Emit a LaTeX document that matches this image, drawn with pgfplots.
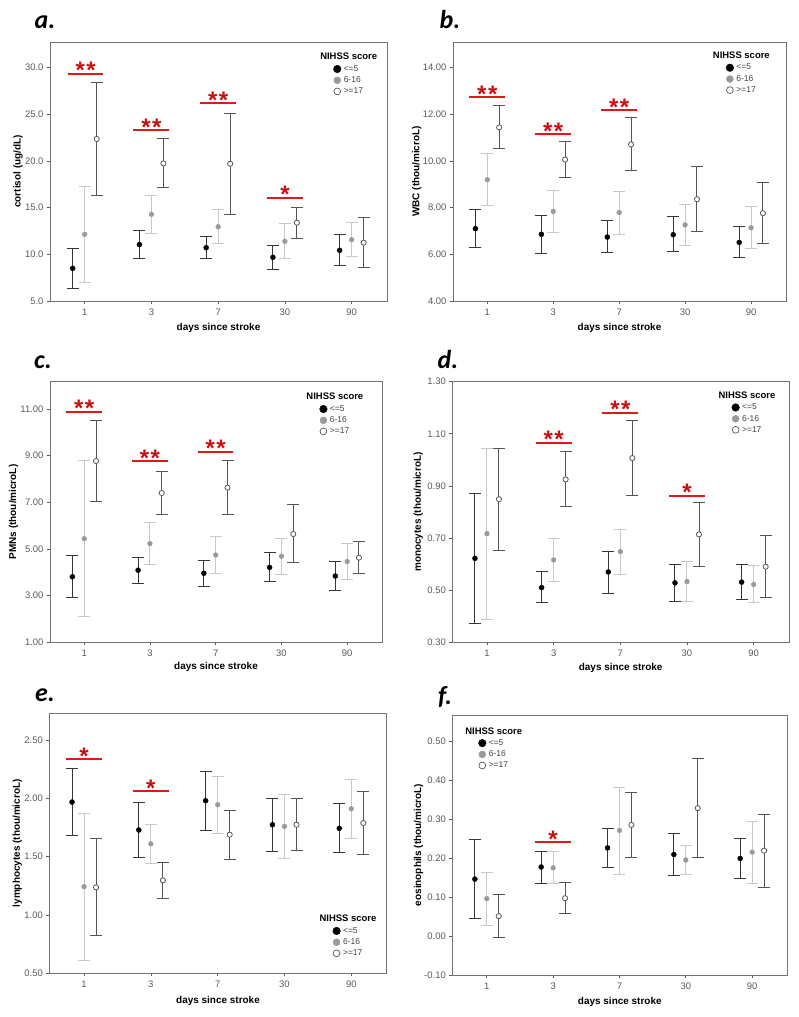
\documentclass[border=0pt]{standalone}
\usepackage{pgfplots}
\pgfplotsset{compat=1.18}
\usepackage{pgfplotstable}
\usepackage{fontspec}
\setmainfont{Liberation Sans}
\newfontfamily\labfont{Carlito}

\definecolor{c1}{HTML}{363636}
\definecolor{c2}{HTML}{C8C8C8}
\definecolor{c3}{HTML}{555555}
\definecolor{mg}{HTML}{9A9A9A}
\definecolor{sigred}{HTML}{E01818}
\definecolor{starred}{HTML}{C81010}

% columns: i  mean/upper/lower for <=5, 6-16, >=17
\pgfplotstableread{
i m1 u1 l1 m2 u2 l2 m3 u3 l3
0 8.50 10.64 6.32 12.14 17.32 6.93 22.36 28.43 16.29
1 11.04 12.54 9.54 14.29 16.32 12.21 19.75 22.39 17.14
2 10.71 11.93 9.54 12.96 14.79 11.14 19.71 25.14 14.25
3 9.68 10.96 8.39 11.39 13.29 9.54 13.39 15.04 11.68
4 10.43 12.11 8.75 11.57 13.43 9.79 11.25 13.93 8.57
}\tA
\pgfplotstableread{
i m1 u1 l1 m2 u2 l2 m3 u3 l3
0 7.10 7.90 6.31 9.20 10.30 8.10 11.44 12.36 10.53
1 6.86 7.67 6.04 7.84 8.74 6.93 10.06 10.83 9.30
2 6.74 7.44 6.07 7.79 8.70 6.86 10.71 11.86 9.59
3 6.84 7.60 6.10 7.26 8.14 6.37 8.36 9.77 6.99
4 6.51 7.19 5.86 7.14 8.03 6.27 7.76 9.06 6.47
}\tB
\pgfplotstableread{
i m1 u1 l1 m2 u2 l2 m3 u3 l3
0 3.81 4.70 2.94 5.44 8.80 2.11 8.77 10.51 7.04
1 4.09 4.64 3.50 5.23 6.13 4.34 7.40 8.33 6.46
2 3.96 4.51 3.40 4.74 5.53 3.94 7.63 8.80 6.46
3 4.21 4.87 3.59 4.69 5.44 3.90 5.64 6.89 4.40
4 3.84 4.47 3.24 4.46 5.23 3.69 4.63 5.33 3.94
}\tC
\pgfplotstableread{
i m1 u1 l1 m2 u2 l2 m3 u3 l3
0 0.622 0.870 0.374 0.717 1.044 0.388 0.849 1.042 0.654
1 0.510 0.570 0.452 0.616 0.698 0.533 0.925 1.031 0.822
2 0.570 0.649 0.489 0.648 0.734 0.561 1.007 1.153 0.863
3 0.528 0.600 0.457 0.533 0.611 0.456 0.714 0.836 0.592
4 0.531 0.598 0.465 0.522 0.594 0.452 0.590 0.710 0.471
}\tD
\pgfplotstableread{
i m1 u1 l1 m2 u2 l2 m3 u3 l3
0 1.969 2.254 1.686 1.243 1.871 0.611 1.237 1.657 0.823
1 1.729 1.966 1.491 1.611 1.774 1.440 1.297 1.454 1.140
2 1.980 2.231 1.726 1.946 2.186 1.697 1.689 1.900 1.474
3 1.774 2.003 1.543 1.760 2.031 1.483 1.774 2.000 1.551
4 1.743 1.954 1.534 1.911 2.166 1.657 1.789 2.063 1.517
}\tE
\pgfplotstableread{
i m1 u1 l1 m2 u2 l2 m3 u3 l3
0 0.146 0.248 0.045 0.096 0.163 0.027 0.051 0.107 -0.003
1 0.177 0.218 0.135 0.175 0.216 0.134 0.097 0.138 0.057
2 0.226 0.276 0.176 0.271 0.382 0.159 0.285 0.368 0.202
3 0.209 0.262 0.156 0.195 0.232 0.158 0.328 0.456 0.201
4 0.199 0.250 0.147 0.215 0.294 0.136 0.219 0.312 0.125
}\tF

\tikzset{
  sigstar/.style={text=starred, font=\fontsize{24}{24}\selectfont\bfseries, anchor=base, inner sep=0pt, yshift=-5bp},
  panellab/.style={font=\labfont\fontsize{26}{26}\selectfont\bfseries\itshape},
}
\pgfplotsset{
  panel/.style={
    scale only axis, anchor=south west,
    xmin=-0.52, xmax=4.53,
    xtick={0,1,2,3,4}, xticklabels={1,3,7,30,90},
    tick align=outside, major tick length=3bp,
    xtick pos=bottom, ytick pos=left,
    tick style={draw=black!65, line width=0.7bp},
    axis line style={draw=black!55, line width=0.8bp},
    tick label style={font=\fontsize{9.5}{10}\selectfont, text=black!65},
    xticklabel style={yshift=-1.5bp},
    label style={font=\fontsize{10}{11}\selectfont\bfseries},
    xlabel={days since stroke},
    scaled y ticks=false,
    clip=false,
    legend cell align=left,
    legend style={draw=none, fill=none, anchor=north west, inner sep=0pt,
      font=\fontsize{8.5}{9}\selectfont, text=black!75,
      nodes={inner sep=0pt}, row sep=3.6bp, column sep=2.5bp},
  },
  ebar/.style={only marks,
    error bars/y dir=both, error bars/y explicit,
    error bars/error bar style={draw=#1, line width=1bp},
    error bars/error mark options={draw=#1, line width=1bp, mark size=6bp, rotate=90}},
  g1/.style={ebar=c1, mark=*, mark size=2.5bp, mark options={fill=black, draw=black, line width=0.4bp}},
  g2/.style={ebar=c2, mark=*, mark size=2.4bp, mark options={fill=mg, draw=mg, line width=0.4bp}},
  g3/.style={ebar=c3, mark=*, mark size=2.6bp, mark options={fill=white, draw=c3, line width=0.8bp}},
}

\newcommand{\threeseries}[1]{%
  \addplot[g1, forget plot] table[x expr=\thisrow{i}-0.18, y=m1,
    y error plus expr=\thisrow{u1}-\thisrow{m1}, y error minus expr=\thisrow{m1}-\thisrow{l1}] {#1};
  \addplot[g2, forget plot] table[x expr=\thisrow{i}, y=m2,
    y error plus expr=\thisrow{u2}-\thisrow{m2}, y error minus expr=\thisrow{m2}-\thisrow{l2}] {#1};
  \addplot[g3, forget plot] table[x expr=\thisrow{i}+0.18, y=m3,
    y error plus expr=\thisrow{u3}-\thisrow{m3}, y error minus expr=\thisrow{m3}-\thisrow{l3}] {#1};
}
\newcommand{\nihss}{%
  \addlegendimage{empty legend}
  \addlegendentry{\hspace*{-23.5bp}\fontsize{9.5}{10}\selectfont\bfseries\color{black}NIHSS score\rule[-4.5bp]{0pt}{1bp}}
  \addlegendimage{legend image code/.code={\fill[black] (0bp,0bp) circle (3.8bp);}}
  \addlegendentry{<=5}
  \addlegendimage{legend image code/.code={\fill[mg] (0bp,0bp) circle (3.5bp);}}
  \addlegendentry{6-16}
  \addlegendimage{legend image code/.code={\draw[c3, fill=white, line width=0.7bp] (0bp,0bp) circle (3.4bp);}}
  \addlegendentry{>=17}
}
% \sig{x-left}{x-right}{x-centre}{y}{stars}
\newcommand{\sig}[5]{%
  \addplot[forget plot, color=sigred, draw=sigred, solid, no markers, line width=2bp] coordinates {(#1,#4) (#2,#4)};
  \node[sigstar] at (axis cs:#3,#4) {#5};
}
\newcommand{\two}{*\hspace{1.5bp}*}

\begin{document}
\begin{tikzpicture}
\path[use as bounding box] (0,0) rectangle (799bp,1017bp);

% ---------- a ----------
\begin{axis}[panel, at={(50bp,716bp)}, width=337bp, height=259bp,
  ymin=5, ymax=32.75, ytick={5,10,15,20,25,30},
  yticklabel style={/pgf/number format/.cd, fixed, fixed zerofill, precision=1, assume math mode=true},
  ylabel={cortisol (ug/dL)},
  ylabel style={at={(axis description cs:-0.095,0.5)}, anchor=center},
  xlabel style={at={(axis description cs:0.5,-0.104)}, anchor=center},
  legend style={at={(axis description cs:0.840,0.957)}}]
\threeseries{\tA}
\sig{-0.25}{0.28}{0.015}{29.36}{\two}
\sig{0.73}{1.27}{1}{23.29}{\two}
\sig{1.73}{2.27}{2}{26.21}{\two}
\sig{2.73}{3.27}{3}{16.04}{*}
\nihss
\end{axis}
\node[panellab] at (45bp,995bp) {a.};

% ---------- b ----------
\begin{axis}[panel, at={(453bp,716bp)}, width=333bp, height=259bp,
  ymin=4, ymax=15.1, ytick={4,6,8,10,12,14},
  yticklabel style={/pgf/number format/.cd, fixed, fixed zerofill, precision=2, assume math mode=true},
  ylabel={WBC (thou/microL)},
  ylabel style={at={(axis description cs:-0.109,0.5)}, anchor=center},
  xlabel style={at={(axis description cs:0.5,-0.105)}, anchor=center},
  legend style={at={(axis description cs:0.819,0.962)}}]
\threeseries{\tB}
\sig{-0.27}{0.27}{0}{12.73}{\two}
\sig{0.73}{1.27}{1}{11.14}{\two}
\sig{1.73}{2.27}{2}{12.17}{\two}
\nihss
\end{axis}
\node[panellab] at (450bp,997bp) {b.};

% ---------- c ----------
\begin{axis}[panel, at={(50bp,374.7bp)}, width=332bp, height=260.6bp,
  ymin=1, ymax=12.17, ytick={1,3,5,7,9,11},
  yticklabel style={/pgf/number format/.cd, fixed, fixed zerofill, precision=2, assume math mode=true},
  ylabel={PMNs (thou/microL)},
  ylabel style={at={(axis description cs:-0.11,0.5)}, anchor=center},
  xlabel style={at={(axis description cs:0.5,-0.095)}, anchor=center},
  legend style={at={(axis description cs:0.811,0.956)}}]
\threeseries{\tC}
\sig{-0.27}{0.27}{0}{10.89}{\two}
\sig{0.73}{1.27}{1}{8.76}{\two}
\sig{1.73}{2.27}{2}{9.16}{\two}
\nihss
\end{axis}
\node[panellab] at (43bp,655bp) {c.};

% ---------- d ----------
\begin{axis}[panel, at={(452.3bp,374.7bp)}, width=336.7bp, height=260.6bp,
  ymin=0.3, ymax=1.3, ytick={0.3,0.5,0.7,0.9,1.1,1.3},
  yticklabel style={/pgf/number format/.cd, fixed, fixed zerofill, precision=2, assume math mode=true},
  ylabel={monocytes (thou/microL)},
  ylabel style={at={(axis description cs:-0.101,0.5)}, anchor=center},
  xlabel style={at={(axis description cs:0.5,-0.098)}, anchor=center},
  legend style={at={(axis description cs:0.829,0.962)}}]
\threeseries{\tD}
\sig{0.73}{1.27}{1}{1.065}{\two}
\sig{1.73}{2.27}{2}{1.181}{\two}
\sig{2.73}{3.27}{3}{0.863}{*}
\nihss
\end{axis}
\node[panellab] at (448bp,657bp) {d.};

% ---------- e ----------
\begin{axis}[panel, at={(49.3bp,43.7bp)}, width=337.4bp, height=260bp,
  ymin=0.5, ymax=2.73, ytick={0.5,1,1.5,2,2.5},
  yticklabel style={/pgf/number format/.cd, fixed, fixed zerofill, precision=2, assume math mode=true},
  ylabel={lymphocytes (thou/microL)},
  ylabel style={at={(axis description cs:-0.095,0.5)}, anchor=center},
  xlabel style={at={(axis description cs:0.5,-0.107)}, anchor=center},
  legend style={at={(axis description cs:0.839,0.224)}}]
\threeseries{\tE}
\sig{-0.27}{0.27}{0}{2.337}{*}
\sig{0.73}{1.27}{1}{2.06}{*}
\nihss
\end{axis}
\node[panellab] at (45bp,322bp) {e.};

% ---------- f ----------
\begin{axis}[panel, at={(452.3bp,42bp)}, width=335bp, height=260bp,
  ymin=-0.1, ymax=0.567, ytick={-0.1,0,0.1,0.2,0.3,0.4,0.5},
  yticklabel style={/pgf/number format/.cd, fixed, fixed zerofill, precision=2, assume math mode=true},
  ylabel={eosinophils (thou/microL)},
  ylabel style={at={(axis description cs:-0.101,0.5)}, anchor=center},
  xlabel style={at={(axis description cs:0.5,-0.105)}, anchor=center},
  legend style={at={(axis description cs:0.077,0.953)}}]
\threeseries{\tF}
\sig{0.73}{1.27}{1}{0.241}{*}
\nihss
\end{axis}
\node[panellab] at (445bp,320bp) {f.};

\end{tikzpicture}
\end{document}
